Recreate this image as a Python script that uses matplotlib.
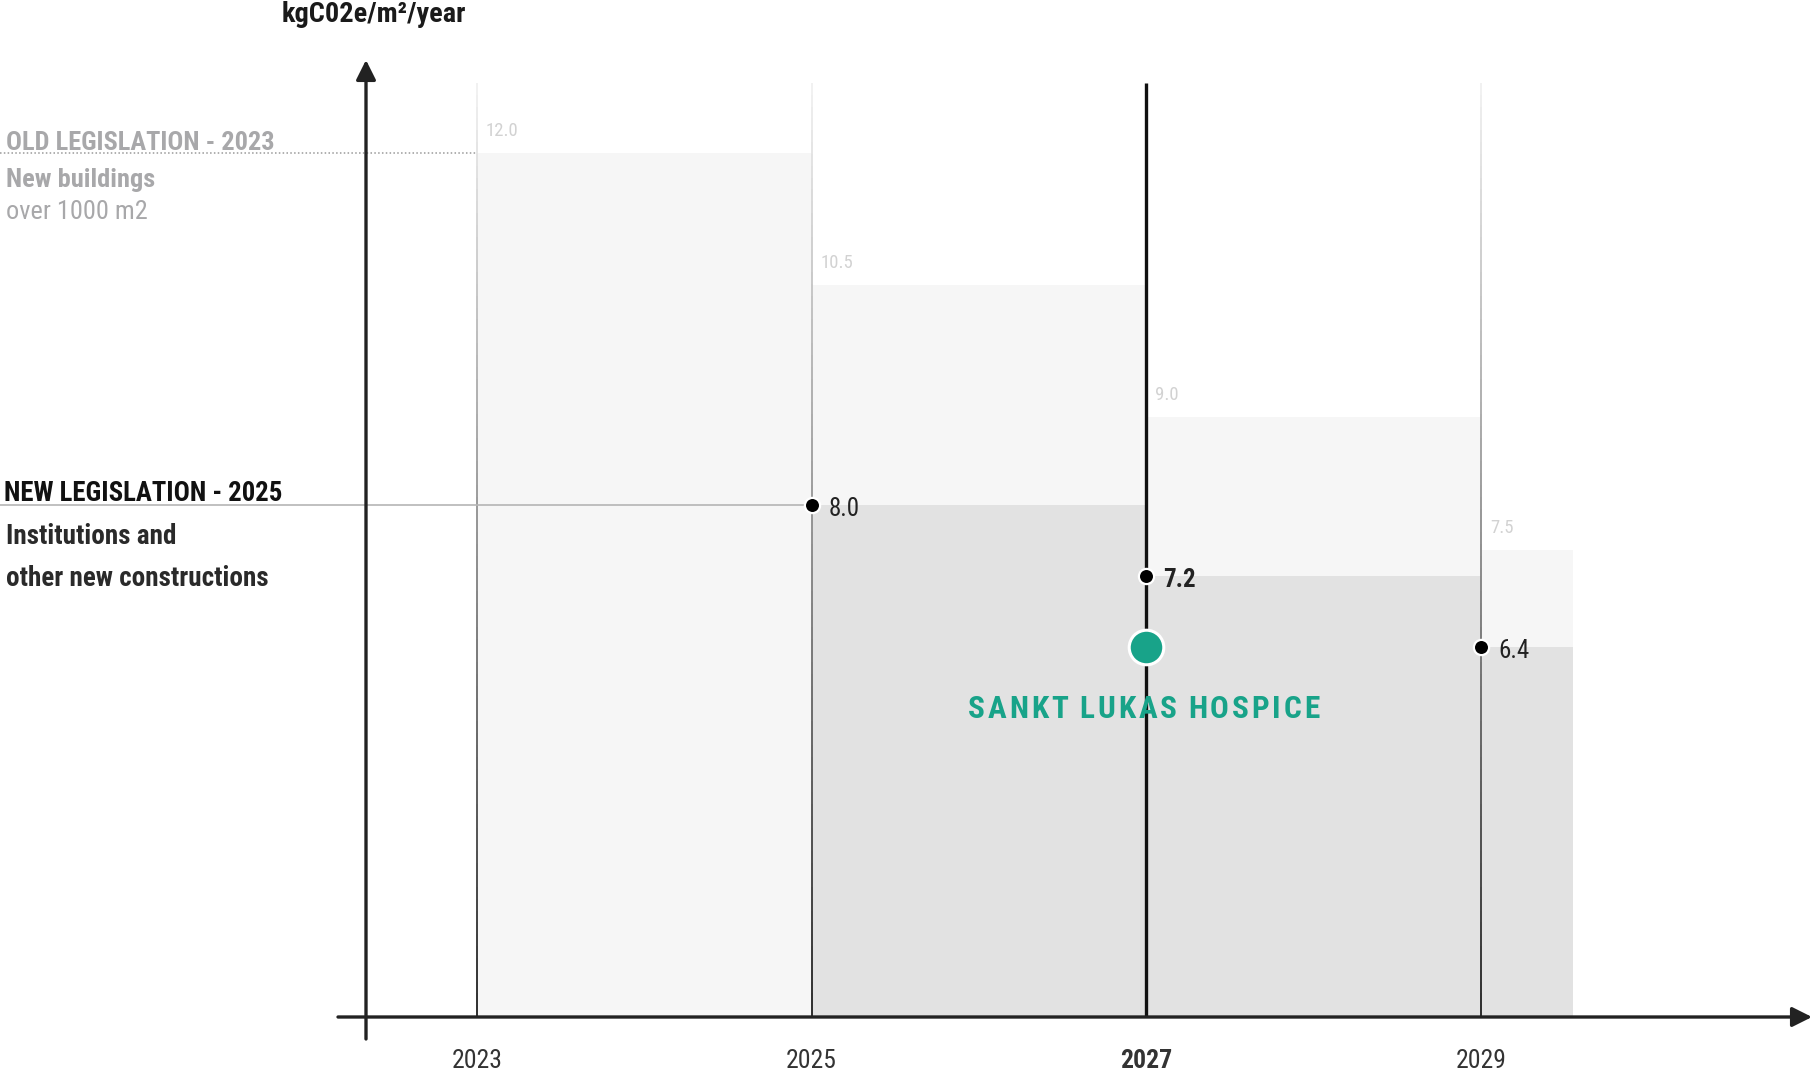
import numpy as np
import matplotlib
matplotlib.use("Agg")
import matplotlib.pyplot as plt
from matplotlib import font_manager
from matplotlib.font_manager import FontProperties
from matplotlib.collections import LineCollection
from matplotlib import colors as mcolors

# data
years = [2023, 2025, 2027, 2029]
period_end = [2025, 2027, 2029, 2029.55]
old_limits = [12.0, 10.5, 9.0, 7.5]
new_years = [2025, 2027, 2029]
new_ends = [2027, 2029, 2029.55]
new_limits = [8.0, 7.2, 6.4]
new_bold = [False, True, False]
year_labels = ["2023", "2025", "2027", "2029"]
hospice_year = 2027
hospice_value = 6.4
hospice_name = "SANKT LUKAS HOSPICE"

# pick the narrowest family that is installed
avail = {f.name for f in font_manager.fontManager.ttflist}
prefs = ["Roboto Condensed", "Noto Sans Condensed", "DejaVu Sans Condensed",
         "Liberation Sans Narrow", "Open Sans Condensed", "Roboto", "DejaVu Sans"]
narrow = next(f for f in prefs if f in avail)
plt.rcParams["font.family"] = [narrow, "DejaVu Sans"]

W, H, DPI = 1814, 1075, 100
fig = plt.figure(figsize=(W / DPI, H / DPI), dpi=DPI)
ax = fig.add_axes([0, 0, 1, 1])
ax.set_axis_off()

# pixel layout of the reference -> data coords
px_year, x_ref = 167.4, 476.7
px_unit, axis_px, base = 88.2, 1017, 2.2
ax.set_xlim(2023 - x_ref / px_year, 2023 + (W - x_ref) / px_year)
ax.set_ylim(base - (H - axis_px) / px_unit, base + axis_px / px_unit)


def dx(p):
    return 2023 + (p - x_ref) / px_year


def dy(p):
    return base + (axis_px - p) / px_unit


# bars
ax.bar(years, np.array(old_limits) - base, width=np.subtract(period_end, years),
       bottom=base, align="edge", color="#f6f6f6", zorder=1)
ax.bar(new_years, np.array(new_limits) - base, width=np.subtract(new_ends, new_years),
       bottom=base, align="edge", color="#e2e2e2", zorder=2)


def grad_line(x, top, bottom, c_top, c_bot, lw):
    ys = np.linspace(top, bottom, 80)
    segs = [[(x, ys[i]), (x, ys[i + 1])] for i in range(len(ys) - 1)]
    cmap = mcolors.LinearSegmentedColormap.from_list("g", [c_top, c_bot])
    lc = LineCollection(segs, colors=cmap(np.linspace(0, 1, len(segs))),
                        linewidths=lw, zorder=3)
    ax.add_collection(lc)


line_top = dy(83)
for yr in years:
    if yr == hospice_year:
        ax.plot([yr, yr], [base, line_top], color="#111111", lw=2.4, zorder=4,
                solid_capstyle="butt")
    else:
        grad_line(yr, line_top, base, "#f0f0f0", "#1e1e1e", 1.3)

# legislation reference lines
ax.plot([dx(0), years[0]], [old_limits[0]] * 2, color="#9a9a9a", lw=1.1,
        ls=(0, (1, 1.5)), zorder=3)
ax.plot([dx(0), new_years[0]], [new_limits[0]] * 2, color="#b5b5b5", lw=1.2, zorder=3)

# axes arrows
arrow = dict(arrowstyle="-|>,head_length=0.6,head_width=0.3", lw=2.4,
             color="#222222", shrinkA=0, shrinkB=0, mutation_scale=20)
ax.annotate("", xy=(dx(1812), base), xytext=(dx(338), base), arrowprops=arrow, zorder=5)
ax.annotate("", xy=(dx(366), dy(60)), xytext=(dx(366), dy(1039)), arrowprops=arrow, zorder=5)

# dots
ax.scatter(new_years, new_limits, s=120, c="black", edgecolors="white",
           linewidths=1.6, zorder=6)
ax.scatter([hospice_year], [hospice_value], s=620, c="#18a389", edgecolors="white",
           linewidths=2.2, zorder=6)

for x, v, b in zip(new_years, new_limits, new_bold):
    ax.annotate(f"{v:.1f}", (x, v), xytext=(17, -4), textcoords="offset pixels",
                va="center", ha="left", fontsize=18, color="#222222",
                fontweight="bold" if b else "normal", zorder=7)

for x, v in zip(years, old_limits):
    ax.annotate(f"{v:.1f}", (x, v), xytext=(9, 22), textcoords="offset pixels",
                va="center", ha="left", fontsize=13.5, color="#d2d2d2", zorder=7)

for x, lab in zip(years, year_labels):
    ax.text(x, dy(1061), lab, ha="center", va="center", fontsize=18.5, color="#333333",
            fontweight="bold" if x == hospice_year else "normal")

# letter-spaced project name, spread over the reference width
name_fp = FontProperties(family=[narrow, "DejaVu Sans"], weight="bold", size=22.5)
renderer = fig.canvas.get_renderer()
widths = [renderer.get_text_width_height_descent(ch, name_fp, ismath=False)[0]
          if ch != " " else 0.0 for ch in hospice_name]
span_px = 351
n_gaps = (len(hospice_name) - 1) + 2 * hospice_name.count(" ")
track = (span_px - sum(widths)) / n_gaps
left = 1143.7 - span_px / 2
for ch, w in zip(hospice_name, widths):
    if ch == " ":
        left += 2 * track
    else:
        ax.text(dx(left), dy(709), ch, ha="left", va="center",
                fontproperties=name_fp, color="#18a389", zorder=7)
        left += w
    left += track

# axis title and legislation notes
ax.text(dx(374), dy(14), "kgC02e/m²/year", ha="center", va="center",
        fontsize=20.3, fontweight="bold", color="#1a1a1a")
ax.text(dx(6), dy(143), "OLD LEGISLATION - 2023", ha="left", va="center",
        fontsize=19, fontweight="bold", color="#a8a8aa")
ax.text(dx(6), dy(180), "New buildings", ha="left", va="center",
        fontsize=19, fontweight="bold", color="#a8a8aa")
ax.text(dx(6), dy(212), "over 1000 m2", ha="left", va="center",
        fontsize=19, color="#a8a8aa")
ax.text(dx(4), dy(494), "NEW LEGISLATION - 2025", ha="left", va="center",
        fontsize=19.3, fontweight="bold", color="#111111")
ax.text(dx(6), dy(537), "Institutions and", ha="left", va="center",
        fontsize=19.5, fontweight="bold", color="#2a2a2a")
ax.text(dx(6), dy(579), "other new constructions", ha="left", va="center",
        fontsize=19.5, fontweight="bold", color="#2a2a2a")

fig.savefig("out.png", dpi=DPI, facecolor="white")
